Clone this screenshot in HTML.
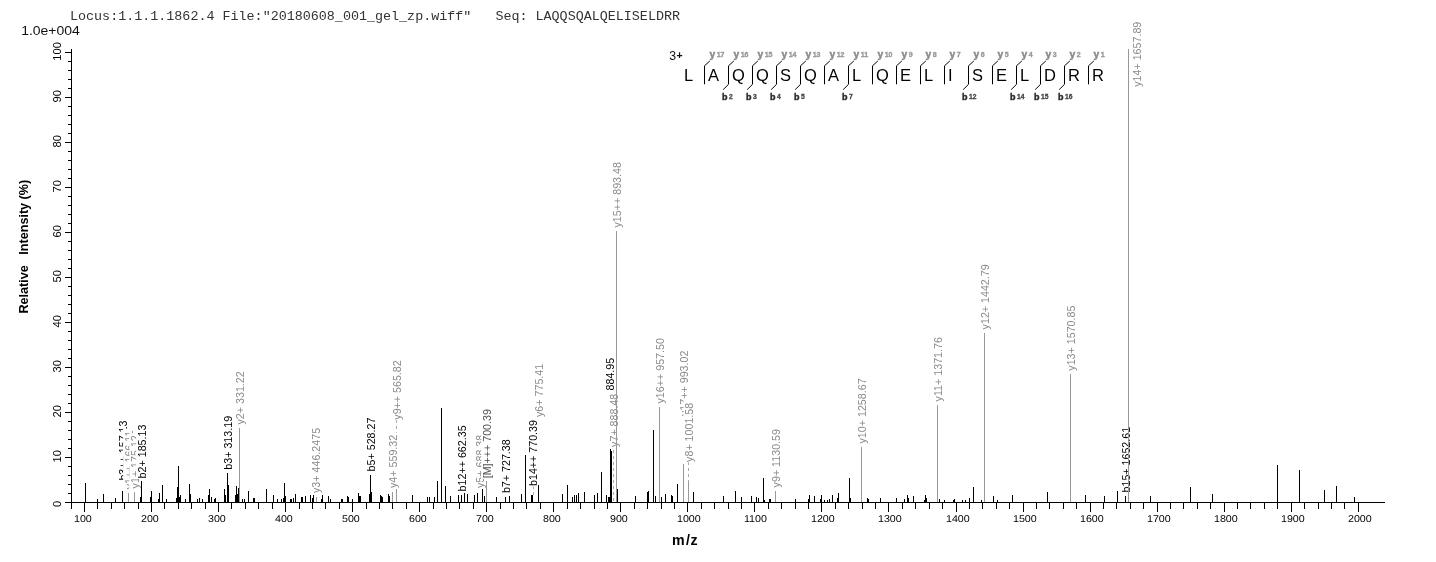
<!DOCTYPE html><html><head><meta charset="utf-8"><style>html,body{margin:0;padding:0;background:#fff;overflow:hidden;}svg{display:block;will-change:transform;}text{font-family:"Liberation Sans",sans-serif;}</style></head><body>
<svg width="1436" height="562" viewBox="0 0 1436 562">
<rect width="1436" height="562" fill="#fff"/>
<text x="70" y="19.9" style="font-family:Liberation Mono,monospace" font-size="13.38" fill="#333" xml:space="preserve">Locus:1.1.1.1862.4 File:"20180608_001_gel_zp.wiff"   Seq: LAQQSQALQELISELDRR</text>
<text x="21.2" y="34.9" font-size="12.6" fill="#111" textLength="58.6" lengthAdjust="spacingAndGlyphs">1.0e+004</text>
<text transform="translate(28.2,313.5) rotate(-90)" font-size="12.6" font-weight="bold" fill="#000" xml:space="preserve">Relative   Intensity (%)</text>
<text y="544.7" font-size="14.2" font-weight="bold" fill="#000"><tspan x="671.9">m</tspan><tspan x="685.9">/</tspan><tspan x="690.5">z</tspan></text>
<g stroke="#000" stroke-width="1" shape-rendering="crispEdges">
<line x1="71.5" y1="49" x2="71.5" y2="502"/>
<line x1="65" y1="502.5" x2="1385" y2="502.5"/>
<line x1="65" y1="502.5" x2="71" y2="502.5"/>
<line x1="68" y1="493.5" x2="71" y2="493.5"/>
<line x1="68" y1="484.5" x2="71" y2="484.5"/>
<line x1="68" y1="475.5" x2="71" y2="475.5"/>
<line x1="68" y1="466.5" x2="71" y2="466.5"/>
<line x1="65" y1="457.5" x2="71" y2="457.5"/>
<line x1="68" y1="448.5" x2="71" y2="448.5"/>
<line x1="68" y1="439.5" x2="71" y2="439.5"/>
<line x1="68" y1="430.5" x2="71" y2="430.5"/>
<line x1="68" y1="421.5" x2="71" y2="421.5"/>
<line x1="65" y1="412.5" x2="71" y2="412.5"/>
<line x1="68" y1="403.5" x2="71" y2="403.5"/>
<line x1="68" y1="394.5" x2="71" y2="394.5"/>
<line x1="68" y1="385.5" x2="71" y2="385.5"/>
<line x1="68" y1="376.5" x2="71" y2="376.5"/>
<line x1="65" y1="367.5" x2="71" y2="367.5"/>
<line x1="68" y1="358.5" x2="71" y2="358.5"/>
<line x1="68" y1="349.5" x2="71" y2="349.5"/>
<line x1="68" y1="340.5" x2="71" y2="340.5"/>
<line x1="68" y1="331.5" x2="71" y2="331.5"/>
<line x1="65" y1="322.5" x2="71" y2="322.5"/>
<line x1="68" y1="313.5" x2="71" y2="313.5"/>
<line x1="68" y1="304.5" x2="71" y2="304.5"/>
<line x1="68" y1="295.5" x2="71" y2="295.5"/>
<line x1="68" y1="286.5" x2="71" y2="286.5"/>
<line x1="65" y1="277.5" x2="71" y2="277.5"/>
<line x1="68" y1="268.5" x2="71" y2="268.5"/>
<line x1="68" y1="259.5" x2="71" y2="259.5"/>
<line x1="68" y1="250.5" x2="71" y2="250.5"/>
<line x1="68" y1="241.5" x2="71" y2="241.5"/>
<line x1="65" y1="232.5" x2="71" y2="232.5"/>
<line x1="68" y1="223.5" x2="71" y2="223.5"/>
<line x1="68" y1="214.5" x2="71" y2="214.5"/>
<line x1="68" y1="205.5" x2="71" y2="205.5"/>
<line x1="68" y1="196.5" x2="71" y2="196.5"/>
<line x1="65" y1="187.5" x2="71" y2="187.5"/>
<line x1="68" y1="178.5" x2="71" y2="178.5"/>
<line x1="68" y1="169.5" x2="71" y2="169.5"/>
<line x1="68" y1="160.5" x2="71" y2="160.5"/>
<line x1="68" y1="151.5" x2="71" y2="151.5"/>
<line x1="65" y1="142.5" x2="71" y2="142.5"/>
<line x1="68" y1="133.5" x2="71" y2="133.5"/>
<line x1="68" y1="124.5" x2="71" y2="124.5"/>
<line x1="68" y1="115.5" x2="71" y2="115.5"/>
<line x1="68" y1="106.5" x2="71" y2="106.5"/>
<line x1="65" y1="97.5" x2="71" y2="97.5"/>
<line x1="68" y1="88.5" x2="71" y2="88.5"/>
<line x1="68" y1="79.5" x2="71" y2="79.5"/>
<line x1="68" y1="70.5" x2="71" y2="70.5"/>
<line x1="68" y1="61.5" x2="71" y2="61.5"/>
<line x1="65" y1="52.5" x2="71" y2="52.5"/>
<line x1="71.5" y1="503" x2="71.5" y2="509"/>
<line x1="84.5" y1="503" x2="84.5" y2="512"/>
<line x1="97.5" y1="503" x2="97.5" y2="509"/>
<line x1="111.5" y1="503" x2="111.5" y2="509"/>
<line x1="124.5" y1="503" x2="124.5" y2="509"/>
<line x1="138.5" y1="503" x2="138.5" y2="509"/>
<line x1="151.5" y1="503" x2="151.5" y2="512"/>
<line x1="164.5" y1="503" x2="164.5" y2="509"/>
<line x1="178.5" y1="503" x2="178.5" y2="509"/>
<line x1="191.5" y1="503" x2="191.5" y2="509"/>
<line x1="205.5" y1="503" x2="205.5" y2="509"/>
<line x1="218.5" y1="503" x2="218.5" y2="512"/>
<line x1="231.5" y1="503" x2="231.5" y2="509"/>
<line x1="245.5" y1="503" x2="245.5" y2="509"/>
<line x1="258.5" y1="503" x2="258.5" y2="509"/>
<line x1="272.5" y1="503" x2="272.5" y2="509"/>
<line x1="285.5" y1="503" x2="285.5" y2="512"/>
<line x1="299.5" y1="503" x2="299.5" y2="509"/>
<line x1="312.5" y1="503" x2="312.5" y2="509"/>
<line x1="325.5" y1="503" x2="325.5" y2="509"/>
<line x1="339.5" y1="503" x2="339.5" y2="509"/>
<line x1="352.5" y1="503" x2="352.5" y2="512"/>
<line x1="366.5" y1="503" x2="366.5" y2="509"/>
<line x1="379.5" y1="503" x2="379.5" y2="509"/>
<line x1="392.5" y1="503" x2="392.5" y2="509"/>
<line x1="406.5" y1="503" x2="406.5" y2="509"/>
<line x1="419.5" y1="503" x2="419.5" y2="512"/>
<line x1="433.5" y1="503" x2="433.5" y2="509"/>
<line x1="446.5" y1="503" x2="446.5" y2="509"/>
<line x1="459.5" y1="503" x2="459.5" y2="509"/>
<line x1="473.5" y1="503" x2="473.5" y2="509"/>
<line x1="486.5" y1="503" x2="486.5" y2="512"/>
<line x1="500.5" y1="503" x2="500.5" y2="509"/>
<line x1="513.5" y1="503" x2="513.5" y2="509"/>
<line x1="526.5" y1="503" x2="526.5" y2="509"/>
<line x1="540.5" y1="503" x2="540.5" y2="509"/>
<line x1="553.5" y1="503" x2="553.5" y2="512"/>
<line x1="567.5" y1="503" x2="567.5" y2="509"/>
<line x1="580.5" y1="503" x2="580.5" y2="509"/>
<line x1="594.5" y1="503" x2="594.5" y2="509"/>
<line x1="607.5" y1="503" x2="607.5" y2="509"/>
<line x1="620.5" y1="503" x2="620.5" y2="512"/>
<line x1="634.5" y1="503" x2="634.5" y2="509"/>
<line x1="647.5" y1="503" x2="647.5" y2="509"/>
<line x1="661.5" y1="503" x2="661.5" y2="509"/>
<line x1="674.5" y1="503" x2="674.5" y2="509"/>
<line x1="687.5" y1="503" x2="687.5" y2="512"/>
<line x1="701.5" y1="503" x2="701.5" y2="509"/>
<line x1="714.5" y1="503" x2="714.5" y2="509"/>
<line x1="728.5" y1="503" x2="728.5" y2="509"/>
<line x1="741.5" y1="503" x2="741.5" y2="509"/>
<line x1="754.5" y1="503" x2="754.5" y2="512"/>
<line x1="768.5" y1="503" x2="768.5" y2="509"/>
<line x1="781.5" y1="503" x2="781.5" y2="509"/>
<line x1="795.5" y1="503" x2="795.5" y2="509"/>
<line x1="808.5" y1="503" x2="808.5" y2="509"/>
<line x1="821.5" y1="503" x2="821.5" y2="512"/>
<line x1="835.5" y1="503" x2="835.5" y2="509"/>
<line x1="848.5" y1="503" x2="848.5" y2="509"/>
<line x1="862.5" y1="503" x2="862.5" y2="509"/>
<line x1="875.5" y1="503" x2="875.5" y2="509"/>
<line x1="888.5" y1="503" x2="888.5" y2="512"/>
<line x1="902.5" y1="503" x2="902.5" y2="509"/>
<line x1="915.5" y1="503" x2="915.5" y2="509"/>
<line x1="929.5" y1="503" x2="929.5" y2="509"/>
<line x1="942.5" y1="503" x2="942.5" y2="509"/>
<line x1="956.5" y1="503" x2="956.5" y2="512"/>
<line x1="969.5" y1="503" x2="969.5" y2="509"/>
<line x1="982.5" y1="503" x2="982.5" y2="509"/>
<line x1="996.5" y1="503" x2="996.5" y2="509"/>
<line x1="1009.5" y1="503" x2="1009.5" y2="509"/>
<line x1="1023.5" y1="503" x2="1023.5" y2="512"/>
<line x1="1036.5" y1="503" x2="1036.5" y2="509"/>
<line x1="1049.5" y1="503" x2="1049.5" y2="509"/>
<line x1="1063.5" y1="503" x2="1063.5" y2="509"/>
<line x1="1076.5" y1="503" x2="1076.5" y2="509"/>
<line x1="1090.5" y1="503" x2="1090.5" y2="512"/>
<line x1="1103.5" y1="503" x2="1103.5" y2="509"/>
<line x1="1116.5" y1="503" x2="1116.5" y2="509"/>
<line x1="1130.5" y1="503" x2="1130.5" y2="509"/>
<line x1="1143.5" y1="503" x2="1143.5" y2="509"/>
<line x1="1157.5" y1="503" x2="1157.5" y2="512"/>
<line x1="1170.5" y1="503" x2="1170.5" y2="509"/>
<line x1="1183.5" y1="503" x2="1183.5" y2="509"/>
<line x1="1197.5" y1="503" x2="1197.5" y2="509"/>
<line x1="1210.5" y1="503" x2="1210.5" y2="509"/>
<line x1="1224.5" y1="503" x2="1224.5" y2="512"/>
<line x1="1237.5" y1="503" x2="1237.5" y2="509"/>
<line x1="1250.5" y1="503" x2="1250.5" y2="509"/>
<line x1="1264.5" y1="503" x2="1264.5" y2="509"/>
<line x1="1277.5" y1="503" x2="1277.5" y2="509"/>
<line x1="1291.5" y1="503" x2="1291.5" y2="512"/>
<line x1="1304.5" y1="503" x2="1304.5" y2="509"/>
<line x1="1318.5" y1="503" x2="1318.5" y2="509"/>
<line x1="1331.5" y1="503" x2="1331.5" y2="509"/>
<line x1="1344.5" y1="503" x2="1344.5" y2="509"/>
<line x1="1358.5" y1="503" x2="1358.5" y2="512"/>
</g>
<g font-size="11.2" fill="#000" text-anchor="middle">
<text transform="translate(61.2,503.8) rotate(-90)">0</text>
<text transform="translate(61.2,456.3) rotate(-90)">10</text>
<text transform="translate(61.2,411.3) rotate(-90)">20</text>
<text transform="translate(61.2,366.3) rotate(-90)">30</text>
<text transform="translate(61.2,321.3) rotate(-90)">40</text>
<text transform="translate(61.2,276.3) rotate(-90)">50</text>
<text transform="translate(61.2,231.3) rotate(-90)">60</text>
<text transform="translate(61.2,186.3) rotate(-90)">70</text>
<text transform="translate(61.2,141.3) rotate(-90)">80</text>
<text transform="translate(61.2,96.3) rotate(-90)">90</text>
<text transform="translate(61.2,51.3) rotate(-90)">100</text>
</g>
<g font-size="10.7" fill="#000" text-rendering="geometricPrecision">
<text transform="translate(73.95,521.7) scale(1,0.93)">100</text>
<text transform="translate(140.95,521.7) scale(1,0.93)">200</text>
<text transform="translate(207.95,521.7) scale(1,0.93)">300</text>
<text transform="translate(274.95,521.7) scale(1,0.93)">400</text>
<text transform="translate(341.95,521.7) scale(1,0.93)">500</text>
<text transform="translate(408.95,521.7) scale(1,0.93)">600</text>
<text transform="translate(475.95,521.7) scale(1,0.93)">700</text>
<text transform="translate(542.95,521.7) scale(1,0.93)">800</text>
<text transform="translate(609.95,521.7) scale(1,0.93)">900</text>
<text transform="translate(676.95,521.7) scale(1,0.93)">1000</text>
<text transform="translate(743.95,521.7) scale(1,0.93)">1100</text>
<text transform="translate(810.95,521.7) scale(1,0.93)">1200</text>
<text transform="translate(877.95,521.7) scale(1,0.93)">1300</text>
<text transform="translate(945.95,521.7) scale(1,0.93)">1400</text>
<text transform="translate(1012.95,521.7) scale(1,0.93)">1500</text>
<text transform="translate(1079.95,521.7) scale(1,0.93)">1600</text>
<text transform="translate(1146.95,521.7) scale(1,0.93)">1700</text>
<text transform="translate(1213.95,521.7) scale(1,0.93)">1800</text>
<text transform="translate(1280.95,521.7) scale(1,0.93)">1900</text>
<text transform="translate(1347.95,521.7) scale(1,0.93)">2000</text>
</g>
<g stroke="#aaa" stroke-width="1" stroke-dasharray="3,3" shape-rendering="crispEdges">
<line x1="613.5" y1="450" x2="613.5" y2="502"/>
<line x1="396.5" y1="420" x2="396.5" y2="487"/>
<line x1="688.5" y1="462" x2="688.5" y2="481.6"/>
<line x1="533.5" y1="486" x2="533.5" y2="495.5"/>
</g>
<g transform="translate(126.83,480.60) rotate(-90)"><rect x="-0.5" y="-9.68" width="62.60" height="11.95" fill="#fff"/><text x="0" y="0" font-size="10.7" fill="#000">b3++ 157.13</text></g>
<g transform="translate(132.83,489.30) rotate(-90)"><rect x="-0.5" y="-9.68" width="61.20" height="11.95" fill="#fff"/><text x="0" y="0" font-size="10.7" fill="#8a8a8a">y1++ 166.11</text></g>
<g transform="translate(139.03,488.40) rotate(-90)"><rect x="-0.5" y="-9.68" width="55.75" height="11.95" fill="#fff"/><text x="0" y="0" font-size="10.7" fill="#8a8a8a">y1+ 175.12</text></g>
<g transform="translate(145.83,478.40) rotate(-90)"><rect x="-0.5" y="-9.68" width="56.35" height="11.95" fill="#fff"/><text x="0" y="0" font-size="10.7" fill="#000">b2+ 185.13</text></g>
<g transform="translate(231.83,469.70) rotate(-90)"><rect x="-0.5" y="-9.68" width="56.35" height="11.95" fill="#fff"/><text x="0" y="0" font-size="10.7" fill="#000">b3+ 313.19</text></g>
<g transform="translate(243.63,424.50) rotate(-90)"><rect x="-0.5" y="-9.68" width="55.75" height="11.95" fill="#fff"/><text x="0" y="0" font-size="10.7" fill="#8a8a8a">y2+ 331.22</text></g>
<g transform="translate(320.33,493.00) rotate(-90)"><rect x="-0.5" y="-9.68" width="67.65" height="11.95" fill="#fff"/><text x="0" y="0" font-size="10.7" fill="#8a8a8a">y3+ 446.2475</text></g>
<g transform="translate(374.83,471.40) rotate(-90)"><rect x="-0.5" y="-9.68" width="56.35" height="11.95" fill="#fff"/><text x="0" y="0" font-size="10.7" fill="#000">b5+ 528.27</text></g>
<g transform="translate(396.83,488.00) rotate(-90)"><rect x="-0.5" y="-9.68" width="55.75" height="11.95" fill="#fff"/><text x="0" y="0" font-size="10.7" fill="#8a8a8a">y4+ 559.32</text></g>
<g transform="translate(401.03,419.70) rotate(-90)"><rect x="-0.5" y="-9.68" width="62.00" height="11.95" fill="#fff"/><text x="0" y="0" font-size="10.7" fill="#8a8a8a">y9++ 565.82</text></g>
<g transform="translate(465.83,491.40) rotate(-90)"><rect x="-0.5" y="-9.68" width="68.55" height="11.95" fill="#fff"/><text x="0" y="0" font-size="10.7" fill="#000">b12++ 662.35</text></g>
<g transform="translate(484.03,488.00) rotate(-90)"><rect x="-0.5" y="-9.68" width="55.75" height="11.95" fill="#fff"/><text x="0" y="0" font-size="10.7" fill="#8a8a8a">y5+ 688.38</text></g>
<g transform="translate(490.83,478.30) rotate(-90)"><rect x="-0.5" y="-9.68" width="71.80" height="11.95" fill="#fff"/><text x="0" y="0" font-size="10.7" fill="#505050">[M]+++ 700.39</text></g>
<g transform="translate(509.83,493.10) rotate(-90)"><rect x="-0.5" y="-9.68" width="56.35" height="11.95" fill="#fff"/><text x="0" y="0" font-size="10.7" fill="#000">b7+ 727.38</text></g>
<g transform="translate(537.23,486.00) rotate(-90)"><rect x="-0.5" y="-9.68" width="68.55" height="11.95" fill="#fff"/><text x="0" y="0" font-size="10.7" fill="#000">b14++ 770.39</text></g>
<g transform="translate(542.53,417.00) rotate(-90)"><rect x="-0.5" y="-9.68" width="55.75" height="11.95" fill="#fff"/><text x="0" y="0" font-size="10.7" fill="#8a8a8a">y6+ 775.41</text></g>
<g transform="translate(614.43,390.50) rotate(-90)"><rect x="-0.5" y="-9.68" width="35.23" height="11.95" fill="#fff"/><text x="0" y="0" font-size="10.7" fill="#000">884.95</text></g>
<g transform="translate(617.73,446.90) rotate(-90)"><rect x="-0.5" y="-9.68" width="55.75" height="11.95" fill="#fff"/><text x="0" y="0" font-size="10.7" fill="#8a8a8a">y7+ 888.48</text></g>
<g transform="translate(620.83,227.50) rotate(-90)"><rect x="-0.5" y="-9.68" width="67.95" height="11.95" fill="#fff"/><text x="0" y="0" font-size="10.7" fill="#8a8a8a">y15++ 893.48</text></g>
<g transform="translate(663.83,403.50) rotate(-90)"><rect x="-0.5" y="-9.68" width="67.95" height="11.95" fill="#fff"/><text x="0" y="0" font-size="10.7" fill="#8a8a8a">y16++ 957.50</text></g>
<g transform="translate(687.83,416.00) rotate(-90)"><rect x="-0.5" y="-9.68" width="67.95" height="11.95" fill="#fff"/><text x="0" y="0" font-size="10.7" fill="#8a8a8a">y17++ 993.02</text></g>
<g transform="translate(693.23,461.90) rotate(-90)"><rect x="-0.5" y="-9.68" width="61.70" height="11.95" fill="#fff"/><text x="0" y="0" font-size="10.7" fill="#8a8a8a">y8+ 1001.58</text></g>
<g transform="translate(779.73,487.40) rotate(-90)"><rect x="-0.5" y="-9.68" width="60.91" height="11.95" fill="#fff"/><text x="0" y="0" font-size="10.7" fill="#8a8a8a">y9+ 1130.59</text></g>
<g transform="translate(865.63,443.50) rotate(-90)"><rect x="-0.5" y="-9.68" width="67.65" height="11.95" fill="#fff"/><text x="0" y="0" font-size="10.7" fill="#8a8a8a">y10+ 1258.67</text></g>
<g transform="translate(941.73,401.40) rotate(-90)"><rect x="-0.5" y="-9.68" width="66.86" height="11.95" fill="#fff"/><text x="0" y="0" font-size="10.7" fill="#8a8a8a">y11+ 1371.76</text></g>
<g transform="translate(988.83,329.40) rotate(-90)"><rect x="-0.5" y="-9.68" width="67.65" height="11.95" fill="#fff"/><text x="0" y="0" font-size="10.7" fill="#8a8a8a">y12+ 1442.79</text></g>
<g transform="translate(1074.83,370.70) rotate(-90)"><rect x="-0.5" y="-9.68" width="67.65" height="11.95" fill="#fff"/><text x="0" y="0" font-size="10.7" fill="#8a8a8a">y13+ 1570.85</text></g>
<g transform="translate(1129.83,492.50) rotate(-90)"><rect x="-0.5" y="-9.68" width="68.25" height="11.95" fill="#fff"/><text x="0" y="0" font-size="10.7" fill="#000">b15+ 1652.61</text></g>
<g transform="translate(1140.83,86.80) rotate(-90)"><rect x="-0.5" y="-9.68" width="67.65" height="11.95" fill="#fff"/><text x="0" y="0" font-size="10.7" fill="#8a8a8a">y14+ 1657.89</text></g>
<g stroke-width="1" shape-rendering="crispEdges">
<line x1="85.5" y1="483" x2="85.5" y2="502" stroke="#000"/>
<line x1="97.5" y1="499" x2="97.5" y2="502" stroke="#000"/>
<line x1="103.5" y1="494" x2="103.5" y2="502" stroke="#000"/>
<line x1="115.5" y1="498" x2="115.5" y2="502" stroke="#000"/>
<line x1="122.5" y1="491" x2="122.5" y2="502" stroke="#000"/>
<line x1="128.5" y1="493" x2="128.5" y2="502" stroke="#999"/>
<line x1="134.5" y1="492" x2="134.5" y2="502" stroke="#999"/>
<line x1="140.5" y1="497" x2="140.5" y2="502" stroke="#000"/>
<line x1="141.5" y1="481" x2="141.5" y2="502" stroke="#000"/>
<line x1="150.5" y1="497" x2="150.5" y2="502" stroke="#000"/>
<line x1="151.5" y1="491" x2="151.5" y2="502" stroke="#000"/>
<line x1="158.5" y1="499" x2="158.5" y2="502" stroke="#000"/>
<line x1="159.5" y1="493" x2="159.5" y2="502" stroke="#000"/>
<line x1="162.5" y1="485" x2="162.5" y2="502" stroke="#000"/>
<line x1="166.5" y1="499" x2="166.5" y2="502" stroke="#000"/>
<line x1="176.5" y1="498" x2="176.5" y2="502" stroke="#000"/>
<line x1="177.5" y1="487" x2="177.5" y2="502" stroke="#000"/>
<line x1="178.5" y1="466" x2="178.5" y2="502" stroke="#000"/>
<line x1="179.5" y1="497" x2="179.5" y2="502" stroke="#000"/>
<line x1="180.5" y1="495" x2="180.5" y2="502" stroke="#000"/>
<line x1="185.5" y1="499" x2="185.5" y2="502" stroke="#000"/>
<line x1="189.5" y1="484" x2="189.5" y2="502" stroke="#000"/>
<line x1="190.5" y1="494" x2="190.5" y2="502" stroke="#000"/>
<line x1="197.5" y1="499" x2="197.5" y2="502" stroke="#000"/>
<line x1="199.5" y1="498" x2="199.5" y2="502" stroke="#000"/>
<line x1="202.5" y1="499" x2="202.5" y2="502" stroke="#000"/>
<line x1="208.5" y1="495" x2="208.5" y2="502" stroke="#000"/>
<line x1="209.5" y1="489" x2="209.5" y2="502" stroke="#000"/>
<line x1="211.5" y1="497" x2="211.5" y2="502" stroke="#000"/>
<line x1="214.5" y1="499" x2="214.5" y2="502" stroke="#000"/>
<line x1="215.5" y1="498" x2="215.5" y2="502" stroke="#000"/>
<line x1="224.5" y1="489" x2="224.5" y2="502" stroke="#000"/>
<line x1="225.5" y1="495" x2="225.5" y2="502" stroke="#000"/>
<line x1="227.5" y1="473" x2="227.5" y2="502" stroke="#000"/>
<line x1="228.5" y1="485" x2="228.5" y2="502" stroke="#000"/>
<line x1="235.5" y1="495" x2="235.5" y2="502" stroke="#000"/>
<line x1="236.5" y1="486" x2="236.5" y2="502" stroke="#000"/>
<line x1="237.5" y1="494" x2="237.5" y2="502" stroke="#000"/>
<line x1="238.5" y1="488" x2="238.5" y2="502" stroke="#000"/>
<line x1="242.5" y1="499" x2="242.5" y2="502" stroke="#000"/>
<line x1="244.5" y1="499" x2="244.5" y2="502" stroke="#000"/>
<line x1="248.5" y1="491" x2="248.5" y2="502" stroke="#000"/>
<line x1="253.5" y1="498" x2="253.5" y2="502" stroke="#000"/>
<line x1="254.5" y1="498" x2="254.5" y2="502" stroke="#000"/>
<line x1="266.5" y1="489" x2="266.5" y2="502" stroke="#000"/>
<line x1="273.5" y1="495" x2="273.5" y2="502" stroke="#000"/>
<line x1="277.5" y1="499" x2="277.5" y2="502" stroke="#000"/>
<line x1="281.5" y1="499" x2="281.5" y2="502" stroke="#000"/>
<line x1="283.5" y1="498" x2="283.5" y2="502" stroke="#000"/>
<line x1="284.5" y1="483" x2="284.5" y2="502" stroke="#000"/>
<line x1="285.5" y1="496" x2="285.5" y2="502" stroke="#000"/>
<line x1="290.5" y1="499" x2="290.5" y2="502" stroke="#000"/>
<line x1="291.5" y1="499" x2="291.5" y2="502" stroke="#000"/>
<line x1="293.5" y1="498" x2="293.5" y2="502" stroke="#000"/>
<line x1="295.5" y1="494" x2="295.5" y2="502" stroke="#000"/>
<line x1="301.5" y1="497" x2="301.5" y2="502" stroke="#000"/>
<line x1="302.5" y1="497" x2="302.5" y2="502" stroke="#000"/>
<line x1="305.5" y1="496" x2="305.5" y2="502" stroke="#000"/>
<line x1="310.5" y1="495" x2="310.5" y2="502" stroke="#000"/>
<line x1="312.5" y1="498" x2="312.5" y2="502" stroke="#000"/>
<line x1="313.5" y1="495" x2="313.5" y2="502" stroke="#000"/>
<line x1="316.5" y1="497" x2="316.5" y2="502" stroke="#999"/>
<line x1="321.5" y1="499" x2="321.5" y2="502" stroke="#000"/>
<line x1="322.5" y1="495" x2="322.5" y2="502" stroke="#000"/>
<line x1="328.5" y1="496" x2="328.5" y2="502" stroke="#000"/>
<line x1="330.5" y1="499" x2="330.5" y2="502" stroke="#000"/>
<line x1="341.5" y1="499" x2="341.5" y2="502" stroke="#000"/>
<line x1="342.5" y1="499" x2="342.5" y2="502" stroke="#000"/>
<line x1="347.5" y1="496" x2="347.5" y2="502" stroke="#000"/>
<line x1="348.5" y1="497" x2="348.5" y2="502" stroke="#000"/>
<line x1="352.5" y1="499" x2="352.5" y2="502" stroke="#000"/>
<line x1="358.5" y1="493" x2="358.5" y2="502" stroke="#000"/>
<line x1="359.5" y1="496" x2="359.5" y2="502" stroke="#000"/>
<line x1="360.5" y1="496" x2="360.5" y2="502" stroke="#000"/>
<line x1="369.5" y1="494" x2="369.5" y2="502" stroke="#000"/>
<line x1="370.5" y1="475" x2="370.5" y2="502" stroke="#000"/>
<line x1="371.5" y1="492" x2="371.5" y2="502" stroke="#000"/>
<line x1="380.5" y1="495" x2="380.5" y2="502" stroke="#000"/>
<line x1="381.5" y1="496" x2="381.5" y2="502" stroke="#000"/>
<line x1="382.5" y1="497" x2="382.5" y2="502" stroke="#000"/>
<line x1="388.5" y1="494" x2="388.5" y2="502" stroke="#000"/>
<line x1="389.5" y1="496" x2="389.5" y2="502" stroke="#000"/>
<line x1="392.5" y1="492" x2="392.5" y2="502" stroke="#999"/>
<line x1="396.5" y1="489" x2="396.5" y2="502" stroke="#999"/>
<line x1="412.5" y1="495" x2="412.5" y2="502" stroke="#000"/>
<line x1="427.5" y1="497" x2="427.5" y2="502" stroke="#000"/>
<line x1="429.5" y1="497" x2="429.5" y2="502" stroke="#000"/>
<line x1="434.5" y1="497" x2="434.5" y2="502" stroke="#000"/>
<line x1="437.5" y1="481" x2="437.5" y2="502" stroke="#000"/>
<line x1="445.5" y1="486" x2="445.5" y2="502" stroke="#000"/>
<line x1="450.5" y1="496" x2="450.5" y2="502" stroke="#000"/>
<line x1="458.5" y1="495" x2="458.5" y2="502" stroke="#000"/>
<line x1="461.5" y1="495" x2="461.5" y2="502" stroke="#000"/>
<line x1="464.5" y1="493" x2="464.5" y2="502" stroke="#000"/>
<line x1="467.5" y1="494" x2="467.5" y2="502" stroke="#000"/>
<line x1="474.5" y1="495" x2="474.5" y2="502" stroke="#000"/>
<line x1="477.5" y1="493" x2="477.5" y2="502" stroke="#000"/>
<line x1="482.5" y1="489" x2="482.5" y2="502" stroke="#000"/>
<line x1="484.5" y1="496" x2="484.5" y2="502" stroke="#000"/>
<line x1="486.5" y1="481" x2="486.5" y2="502" stroke="#999"/>
<line x1="496.5" y1="497" x2="496.5" y2="502" stroke="#000"/>
<line x1="505.5" y1="497" x2="505.5" y2="502" stroke="#000"/>
<line x1="509.5" y1="496" x2="509.5" y2="502" stroke="#000"/>
<line x1="521.5" y1="494" x2="521.5" y2="502" stroke="#000"/>
<line x1="525.5" y1="455" x2="525.5" y2="502" stroke="#000"/>
<line x1="531.5" y1="495" x2="531.5" y2="502" stroke="#000"/>
<line x1="532.5" y1="495" x2="532.5" y2="502" stroke="#000"/>
<line x1="538.5" y1="485" x2="538.5" y2="502" stroke="#000"/>
<line x1="562.5" y1="494" x2="562.5" y2="502" stroke="#000"/>
<line x1="567.5" y1="485" x2="567.5" y2="502" stroke="#000"/>
<line x1="572.5" y1="497" x2="572.5" y2="502" stroke="#000"/>
<line x1="574.5" y1="495" x2="574.5" y2="502" stroke="#000"/>
<line x1="576.5" y1="495" x2="576.5" y2="502" stroke="#000"/>
<line x1="578.5" y1="493" x2="578.5" y2="502" stroke="#000"/>
<line x1="584.5" y1="492" x2="584.5" y2="502" stroke="#000"/>
<line x1="594.5" y1="495" x2="594.5" y2="502" stroke="#000"/>
<line x1="597.5" y1="493" x2="597.5" y2="502" stroke="#000"/>
<line x1="601.5" y1="472" x2="601.5" y2="502" stroke="#000"/>
<line x1="606.5" y1="495" x2="606.5" y2="502" stroke="#000"/>
<line x1="608.5" y1="497" x2="608.5" y2="502" stroke="#000"/>
<line x1="609.5" y1="497" x2="609.5" y2="502" stroke="#000"/>
<line x1="610.5" y1="449" x2="610.5" y2="502" stroke="#000"/>
<line x1="611.5" y1="451" x2="611.5" y2="502" stroke="#000"/>
<line x1="616.5" y1="231" x2="616.5" y2="502" stroke="#999"/>
<line x1="617.5" y1="489" x2="617.5" y2="502" stroke="#000"/>
<line x1="635.5" y1="496" x2="635.5" y2="502" stroke="#000"/>
<line x1="647.5" y1="492" x2="647.5" y2="502" stroke="#000"/>
<line x1="648.5" y1="491" x2="648.5" y2="502" stroke="#000"/>
<line x1="653.5" y1="430" x2="653.5" y2="502" stroke="#000"/>
<line x1="655.5" y1="496" x2="655.5" y2="502" stroke="#000"/>
<line x1="659.5" y1="407" x2="659.5" y2="502" stroke="#999"/>
<line x1="661.5" y1="497" x2="661.5" y2="502" stroke="#000"/>
<line x1="665.5" y1="494" x2="665.5" y2="502" stroke="#000"/>
<line x1="671.5" y1="495" x2="671.5" y2="502" stroke="#000"/>
<line x1="672.5" y1="496" x2="672.5" y2="502" stroke="#000"/>
<line x1="677.5" y1="484" x2="677.5" y2="502" stroke="#000"/>
<line x1="683.5" y1="464" x2="683.5" y2="502" stroke="#999"/>
<line x1="688.5" y1="482" x2="688.5" y2="502" stroke="#999"/>
<line x1="693.5" y1="492" x2="693.5" y2="502" stroke="#000"/>
<line x1="723.5" y1="496" x2="723.5" y2="502" stroke="#000"/>
<line x1="735.5" y1="491" x2="735.5" y2="502" stroke="#000"/>
<line x1="741.5" y1="497" x2="741.5" y2="502" stroke="#000"/>
<line x1="751.5" y1="496" x2="751.5" y2="502" stroke="#000"/>
<line x1="756.5" y1="497" x2="756.5" y2="502" stroke="#000"/>
<line x1="758.5" y1="498" x2="758.5" y2="502" stroke="#000"/>
<line x1="763.5" y1="478" x2="763.5" y2="502" stroke="#000"/>
<line x1="764.5" y1="500" x2="764.5" y2="502" stroke="#000"/>
<line x1="769.5" y1="499" x2="769.5" y2="502" stroke="#000"/>
<line x1="770.5" y1="499" x2="770.5" y2="502" stroke="#000"/>
<line x1="775.5" y1="491" x2="775.5" y2="502" stroke="#999"/>
<line x1="795.5" y1="499" x2="795.5" y2="502" stroke="#000"/>
<line x1="808.5" y1="499" x2="808.5" y2="502" stroke="#000"/>
<line x1="809.5" y1="495" x2="809.5" y2="502" stroke="#000"/>
<line x1="814.5" y1="496" x2="814.5" y2="502" stroke="#000"/>
<line x1="820.5" y1="499" x2="820.5" y2="502" stroke="#000"/>
<line x1="821.5" y1="495" x2="821.5" y2="502" stroke="#000"/>
<line x1="824.5" y1="500" x2="824.5" y2="502" stroke="#000"/>
<line x1="827.5" y1="500" x2="827.5" y2="502" stroke="#000"/>
<line x1="829.5" y1="499" x2="829.5" y2="502" stroke="#000"/>
<line x1="832.5" y1="495" x2="832.5" y2="502" stroke="#000"/>
<line x1="837.5" y1="498" x2="837.5" y2="502" stroke="#000"/>
<line x1="838.5" y1="493" x2="838.5" y2="502" stroke="#000"/>
<line x1="849.5" y1="478" x2="849.5" y2="502" stroke="#000"/>
<line x1="850.5" y1="498" x2="850.5" y2="502" stroke="#000"/>
<line x1="861.5" y1="447" x2="861.5" y2="502" stroke="#999"/>
<line x1="867.5" y1="498" x2="867.5" y2="502" stroke="#000"/>
<line x1="868.5" y1="499" x2="868.5" y2="502" stroke="#000"/>
<line x1="880.5" y1="498" x2="880.5" y2="502" stroke="#000"/>
<line x1="896.5" y1="498" x2="896.5" y2="502" stroke="#000"/>
<line x1="904.5" y1="499" x2="904.5" y2="502" stroke="#000"/>
<line x1="907.5" y1="495" x2="907.5" y2="502" stroke="#000"/>
<line x1="908.5" y1="498" x2="908.5" y2="502" stroke="#000"/>
<line x1="913.5" y1="496" x2="913.5" y2="502" stroke="#000"/>
<line x1="924.5" y1="500" x2="924.5" y2="502" stroke="#000"/>
<line x1="925.5" y1="495" x2="925.5" y2="502" stroke="#000"/>
<line x1="926.5" y1="498" x2="926.5" y2="502" stroke="#000"/>
<line x1="937.5" y1="405" x2="937.5" y2="502" stroke="#999"/>
<line x1="939.5" y1="499" x2="939.5" y2="502" stroke="#000"/>
<line x1="944.5" y1="500" x2="944.5" y2="502" stroke="#000"/>
<line x1="953.5" y1="500" x2="953.5" y2="502" stroke="#000"/>
<line x1="954.5" y1="499" x2="954.5" y2="502" stroke="#000"/>
<line x1="962.5" y1="500" x2="962.5" y2="502" stroke="#000"/>
<line x1="965.5" y1="500" x2="965.5" y2="502" stroke="#000"/>
<line x1="969.5" y1="498" x2="969.5" y2="502" stroke="#000"/>
<line x1="973.5" y1="487" x2="973.5" y2="502" stroke="#000"/>
<line x1="981.5" y1="500" x2="981.5" y2="502" stroke="#000"/>
<line x1="984.5" y1="333" x2="984.5" y2="502" stroke="#999"/>
<line x1="993.5" y1="496" x2="993.5" y2="502" stroke="#000"/>
<line x1="997.5" y1="500" x2="997.5" y2="502" stroke="#000"/>
<line x1="1012.5" y1="495" x2="1012.5" y2="502" stroke="#000"/>
<line x1="1047.5" y1="492" x2="1047.5" y2="502" stroke="#000"/>
<line x1="1070.5" y1="374" x2="1070.5" y2="502" stroke="#999"/>
<line x1="1085.5" y1="495" x2="1085.5" y2="502" stroke="#000"/>
<line x1="1104.5" y1="496" x2="1104.5" y2="502" stroke="#000"/>
<line x1="1117.5" y1="491" x2="1117.5" y2="502" stroke="#000"/>
<line x1="1125.5" y1="496" x2="1125.5" y2="502" stroke="#000"/>
<line x1="1128.5" y1="49" x2="1128.5" y2="502" stroke="#999"/>
<line x1="1150.5" y1="496" x2="1150.5" y2="502" stroke="#000"/>
<line x1="1190.5" y1="487" x2="1190.5" y2="502" stroke="#000"/>
<line x1="1212.5" y1="494" x2="1212.5" y2="502" stroke="#000"/>
<line x1="1277.5" y1="465" x2="1277.5" y2="502" stroke="#000"/>
<line x1="1299.5" y1="470" x2="1299.5" y2="502" stroke="#000"/>
<line x1="1324.5" y1="490" x2="1324.5" y2="502" stroke="#000"/>
<line x1="1336.5" y1="486" x2="1336.5" y2="502" stroke="#000"/>
<line x1="1354.5" y1="497" x2="1354.5" y2="502" stroke="#000"/>
<line x1="441.5" y1="408" x2="441.5" y2="502" stroke="#000"/>
<line x1="239.5" y1="428" x2="239.5" y2="502" stroke="#999"/>
</g>
<g font-size="16.5" fill="#000">
<text x="684.0" y="80.8">L</text>
<text x="708.0" y="80.8">A</text>
<text x="732.0" y="80.8">Q</text>
<text x="756.0" y="80.8">Q</text>
<text x="780.0" y="80.8">S</text>
<text x="804.0" y="80.8">Q</text>
<text x="828.0" y="80.8">A</text>
<text x="852.0" y="80.8">L</text>
<text x="876.0" y="80.8">Q</text>
<text x="900.0" y="80.8">E</text>
<text x="924.0" y="80.8">L</text>
<text x="948.0" y="80.8">I</text>
<text x="972.0" y="80.8">S</text>
<text x="996.0" y="80.8">E</text>
<text x="1020.0" y="80.8">L</text>
<text x="1044.0" y="80.8">D</text>
<text x="1068.0" y="80.8">R</text>
<text x="1092.0" y="80.8">R</text>
</g>
<text x="669.3" y="59.8" font-size="12.3" fill="#111">3</text><text x="676.6" y="58.8" font-size="10.5" font-weight="bold" fill="#111">+</text>
<g stroke="#000" stroke-width="1" fill="none">
<polyline points="709.8,61 704.5,65.8 704.5,84.3" />
<polyline points="733.8,61 728.5,65.8 728.5,84.3" />
<line x1="728.5" y1="84.3" x2="723.2" y2="89.6"/>
<polyline points="757.8,61 752.5,65.8 752.5,84.3" />
<line x1="752.5" y1="84.3" x2="747.2" y2="89.6"/>
<polyline points="781.8,61 776.5,65.8 776.5,84.3" />
<line x1="776.5" y1="84.3" x2="771.2" y2="89.6"/>
<polyline points="805.8,61 800.5,65.8 800.5,84.3" />
<line x1="800.5" y1="84.3" x2="795.2" y2="89.6"/>
<polyline points="829.8,61 824.5,65.8 824.5,84.3" />
<polyline points="853.8,61 848.5,65.8 848.5,84.3" />
<line x1="848.5" y1="84.3" x2="843.2" y2="89.6"/>
<polyline points="877.8,61 872.5,65.8 872.5,84.3" />
<polyline points="901.8,61 896.5,65.8 896.5,84.3" />
<polyline points="925.8,61 920.5,65.8 920.5,84.3" />
<polyline points="949.8,61 944.5,65.8 944.5,84.3" />
<polyline points="973.8,61 968.5,65.8 968.5,84.3" />
<line x1="968.5" y1="84.3" x2="963.2" y2="89.6"/>
<polyline points="997.8,61 992.5,65.8 992.5,84.3" />
<polyline points="1021.8,61 1016.5,65.8 1016.5,84.3" />
<line x1="1016.5" y1="84.3" x2="1011.2" y2="89.6"/>
<polyline points="1045.8,61 1040.5,65.8 1040.5,84.3" />
<line x1="1040.5" y1="84.3" x2="1035.2" y2="89.6"/>
<polyline points="1069.8,61 1064.5,65.8 1064.5,84.3" />
<line x1="1064.5" y1="84.3" x2="1059.2" y2="89.6"/>
<polyline points="1093.8,61 1088.5,65.8 1088.5,84.3" />
</g>
<text x="709.4" y="57.6" font-size="10.2" font-weight="bold" fill="#8a8a8a" stroke="#8a8a8a" stroke-width="0.45">y</text>
<text x="716.7" y="56.8" font-size="7.0" font-weight="bold" fill="#999" stroke="#999" stroke-width="0.35">17</text>
<text x="733.4" y="57.6" font-size="10.2" font-weight="bold" fill="#8a8a8a" stroke="#8a8a8a" stroke-width="0.45">y</text>
<text x="740.7" y="56.8" font-size="7.0" font-weight="bold" fill="#999" stroke="#999" stroke-width="0.35">16</text>
<text x="721.9" y="99.7" font-size="9" font-weight="bold" fill="#2a2a2a" stroke="#2a2a2a" stroke-width="0.4">b</text>
<text x="729.1" y="98.9" font-size="6.7" font-weight="bold" fill="#444" stroke="#444" stroke-width="0.3">2</text>
<text x="757.4" y="57.6" font-size="10.2" font-weight="bold" fill="#8a8a8a" stroke="#8a8a8a" stroke-width="0.45">y</text>
<text x="764.7" y="56.8" font-size="7.0" font-weight="bold" fill="#999" stroke="#999" stroke-width="0.35">15</text>
<text x="745.9" y="99.7" font-size="9" font-weight="bold" fill="#2a2a2a" stroke="#2a2a2a" stroke-width="0.4">b</text>
<text x="753.1" y="98.9" font-size="6.7" font-weight="bold" fill="#444" stroke="#444" stroke-width="0.3">3</text>
<text x="781.4" y="57.6" font-size="10.2" font-weight="bold" fill="#8a8a8a" stroke="#8a8a8a" stroke-width="0.45">y</text>
<text x="788.7" y="56.8" font-size="7.0" font-weight="bold" fill="#999" stroke="#999" stroke-width="0.35">14</text>
<text x="769.9" y="99.7" font-size="9" font-weight="bold" fill="#2a2a2a" stroke="#2a2a2a" stroke-width="0.4">b</text>
<text x="777.1" y="98.9" font-size="6.7" font-weight="bold" fill="#444" stroke="#444" stroke-width="0.3">4</text>
<text x="805.4" y="57.6" font-size="10.2" font-weight="bold" fill="#8a8a8a" stroke="#8a8a8a" stroke-width="0.45">y</text>
<text x="812.7" y="56.8" font-size="7.0" font-weight="bold" fill="#999" stroke="#999" stroke-width="0.35">13</text>
<text x="793.9" y="99.7" font-size="9" font-weight="bold" fill="#2a2a2a" stroke="#2a2a2a" stroke-width="0.4">b</text>
<text x="801.1" y="98.9" font-size="6.7" font-weight="bold" fill="#444" stroke="#444" stroke-width="0.3">5</text>
<text x="829.4" y="57.6" font-size="10.2" font-weight="bold" fill="#8a8a8a" stroke="#8a8a8a" stroke-width="0.45">y</text>
<text x="836.7" y="56.8" font-size="7.0" font-weight="bold" fill="#999" stroke="#999" stroke-width="0.35">12</text>
<text x="853.4" y="57.6" font-size="10.2" font-weight="bold" fill="#8a8a8a" stroke="#8a8a8a" stroke-width="0.45">y</text>
<text x="860.7" y="56.8" font-size="7.0" font-weight="bold" fill="#999" stroke="#999" stroke-width="0.35">11</text>
<text x="841.9" y="99.7" font-size="9" font-weight="bold" fill="#2a2a2a" stroke="#2a2a2a" stroke-width="0.4">b</text>
<text x="849.1" y="98.9" font-size="6.7" font-weight="bold" fill="#444" stroke="#444" stroke-width="0.3">7</text>
<text x="877.4" y="57.6" font-size="10.2" font-weight="bold" fill="#8a8a8a" stroke="#8a8a8a" stroke-width="0.45">y</text>
<text x="884.7" y="56.8" font-size="7.0" font-weight="bold" fill="#999" stroke="#999" stroke-width="0.35">10</text>
<text x="901.4" y="57.6" font-size="10.2" font-weight="bold" fill="#8a8a8a" stroke="#8a8a8a" stroke-width="0.45">y</text>
<text x="908.7" y="56.8" font-size="7.0" font-weight="bold" fill="#999" stroke="#999" stroke-width="0.35">9</text>
<text x="925.4" y="57.6" font-size="10.2" font-weight="bold" fill="#8a8a8a" stroke="#8a8a8a" stroke-width="0.45">y</text>
<text x="932.7" y="56.8" font-size="7.0" font-weight="bold" fill="#999" stroke="#999" stroke-width="0.35">8</text>
<text x="949.4" y="57.6" font-size="10.2" font-weight="bold" fill="#8a8a8a" stroke="#8a8a8a" stroke-width="0.45">y</text>
<text x="956.7" y="56.8" font-size="7.0" font-weight="bold" fill="#999" stroke="#999" stroke-width="0.35">7</text>
<text x="973.4" y="57.6" font-size="10.2" font-weight="bold" fill="#8a8a8a" stroke="#8a8a8a" stroke-width="0.45">y</text>
<text x="980.7" y="56.8" font-size="7.0" font-weight="bold" fill="#999" stroke="#999" stroke-width="0.35">6</text>
<text x="961.9" y="99.7" font-size="9" font-weight="bold" fill="#2a2a2a" stroke="#2a2a2a" stroke-width="0.4">b</text>
<text x="969.1" y="98.9" font-size="6.7" font-weight="bold" fill="#444" stroke="#444" stroke-width="0.3">12</text>
<text x="997.4" y="57.6" font-size="10.2" font-weight="bold" fill="#8a8a8a" stroke="#8a8a8a" stroke-width="0.45">y</text>
<text x="1004.7" y="56.8" font-size="7.0" font-weight="bold" fill="#999" stroke="#999" stroke-width="0.35">5</text>
<text x="1021.4" y="57.6" font-size="10.2" font-weight="bold" fill="#8a8a8a" stroke="#8a8a8a" stroke-width="0.45">y</text>
<text x="1028.7" y="56.8" font-size="7.0" font-weight="bold" fill="#999" stroke="#999" stroke-width="0.35">4</text>
<text x="1009.9" y="99.7" font-size="9" font-weight="bold" fill="#2a2a2a" stroke="#2a2a2a" stroke-width="0.4">b</text>
<text x="1017.1" y="98.9" font-size="6.7" font-weight="bold" fill="#444" stroke="#444" stroke-width="0.3">14</text>
<text x="1045.4" y="57.6" font-size="10.2" font-weight="bold" fill="#8a8a8a" stroke="#8a8a8a" stroke-width="0.45">y</text>
<text x="1052.7" y="56.8" font-size="7.0" font-weight="bold" fill="#999" stroke="#999" stroke-width="0.35">3</text>
<text x="1033.9" y="99.7" font-size="9" font-weight="bold" fill="#2a2a2a" stroke="#2a2a2a" stroke-width="0.4">b</text>
<text x="1041.1" y="98.9" font-size="6.7" font-weight="bold" fill="#444" stroke="#444" stroke-width="0.3">15</text>
<text x="1069.4" y="57.6" font-size="10.2" font-weight="bold" fill="#8a8a8a" stroke="#8a8a8a" stroke-width="0.45">y</text>
<text x="1076.7" y="56.8" font-size="7.0" font-weight="bold" fill="#999" stroke="#999" stroke-width="0.35">2</text>
<text x="1057.9" y="99.7" font-size="9" font-weight="bold" fill="#2a2a2a" stroke="#2a2a2a" stroke-width="0.4">b</text>
<text x="1065.1" y="98.9" font-size="6.7" font-weight="bold" fill="#444" stroke="#444" stroke-width="0.3">16</text>
<text x="1093.4" y="57.6" font-size="10.2" font-weight="bold" fill="#8a8a8a" stroke="#8a8a8a" stroke-width="0.45">y</text>
<text x="1100.7" y="56.8" font-size="7.0" font-weight="bold" fill="#999" stroke="#999" stroke-width="0.35">1</text>
</svg></body></html>
